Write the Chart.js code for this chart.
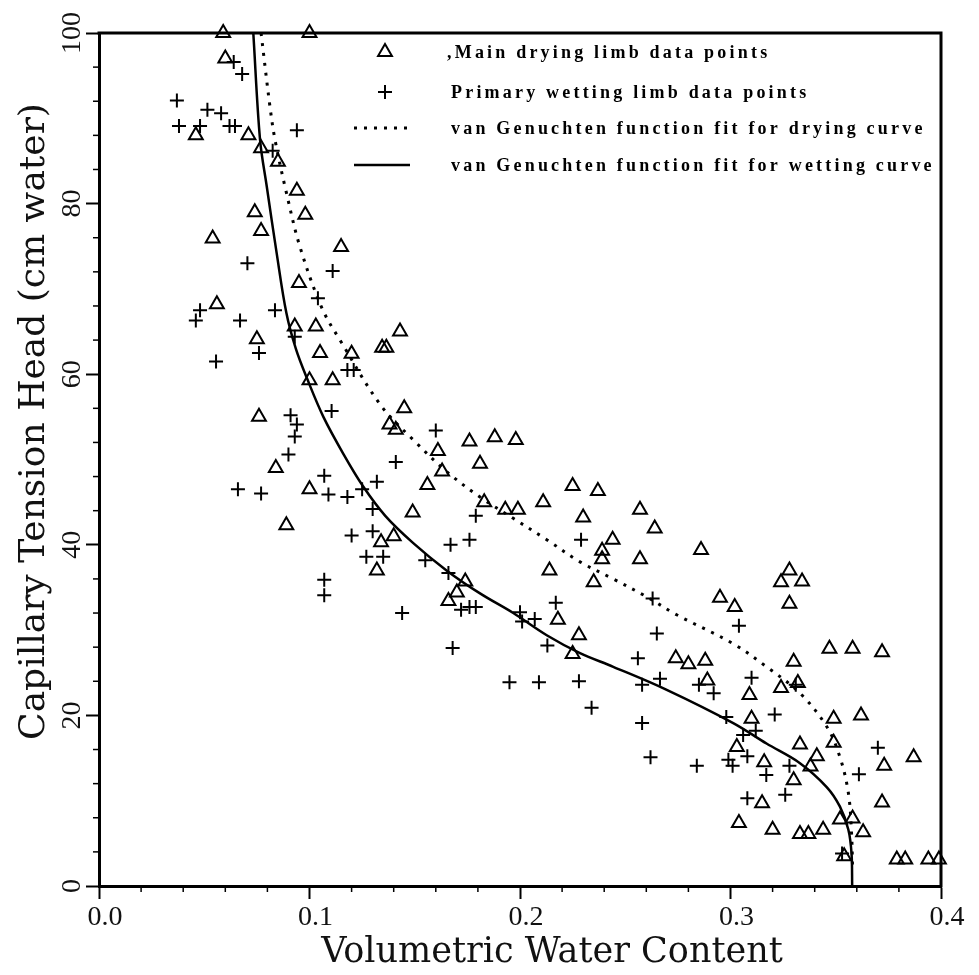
<!DOCTYPE html>
<html>
<head>
<meta charset="utf-8">
<title>Capillary tension head vs volumetric water content</title>
<script src="https://cdn.jsdelivr.net/npm/chart.js@4.4.1/dist/chart.umd.min.js"></script>
<style>
  html, body { margin: 0; padding: 0; background: #fff; }
</style>
</head>
<body>
<canvas id="retentionChart" width="979" height="975"></canvas>
<script>
"use strict"
//x = volumetric water content, y = capillary tension head (cm)

//main drying limb data points (triangles)
var dryTheta = [0.059,0.100,0.060,0.046,0.071,0.077,0.085,0.094,0.074,0.098,0.077,0.054,0.115,0.095,0.056,
  0.093,0.103,0.075,0.105,0.120,0.1345,0.1365,0.143,0.100,0.111,0.076,0.084,0.100,0.089,0.134,0.132,
  0.145,0.138,0.141,0.176,0.188,0.198,0.161,0.181,0.163,0.156,0.183,0.193,0.199,0.149,0.225,0.237,
  0.211,0.257,0.230,0.264,0.244,0.239,0.239,0.257,0.214,0.235,0.140,0.174,0.170,0.166,0.218,0.228,
  0.225,0.274,0.286,0.328,0.324,0.334,0.328,0.295,0.302,0.347,0.358,0.372,0.330,0.280,0.288,0.289,
  0.324,0.332,0.309,0.310,0.349,0.362,0.349,0.333,0.303,0.316,0.341,0.338,0.373,0.387,0.330,0.315,
  0.372,0.304,0.320,0.333,0.337,0.344,0.352,0.358,0.363,0.354,0.379,0.383,0.394,0.399];
var dryHead = [100,100,97.0,88.0,88.0,86.5,84.9,81.5,79.0,78.7,76.8,75.9,74.9,70.7,68.2,
  65.6,65.6,64.1,62.5,62.4,63.1,63.1,65.0,59.3,59.3,55.0,49.0,46.5,42.3,40.3,37.0,
  56.0,54.1,53.5,52.1,52.6,52.3,51.0,49.5,48.6,47.0,45.0,44.1,44.1,43.8,46.9,46.3,
  45.0,44.1,43.2,41.9,40.6,39.3,38.3,38.3,37.0,35.6,41.0,35.7,34.4,33.4,31.2,29.4,
  27.2,26.7,39.4,37.0,35.6,35.7,33.1,33.8,32.7,27.8,27.8,27.4,26.3,26.0,26.4,24.1,
  23.2,23.8,22.4,19.6,19.6,20.0,16.8,16.6,16.3,14.5,15.2,14.0,14.1,15.1,12.4,9.7,
  9.8,7.4,6.6,6.1,6.1,6.6,7.8,7.9,6.3,3.5,3.1,3.1,3.1,3.1];

//primary wetting limb data points (crosses)
var wetTheta = [0.064,0.068,0.037,0.0515,0.058,0.038,0.048,0.062,0.0646,0.094,0.0825,0.0705,0.111,0.104,0.048,
  0.0836,0.046,0.067,0.093,0.076,0.0556,0.118,0.121,0.1105,0.091,0.094,0.093,0.090,0.107,0.066,
  0.077,0.109,0.118,0.125,0.132,0.130,0.130,0.120,0.127,0.135,0.107,0.107,0.144,0.160,0.141,
  0.179,0.167,0.176,0.229,0.155,0.166,0.172,0.176,0.179,0.200,0.201,0.207,0.217,0.213,0.168,
  0.263,0.265,0.256,0.258,0.2665,0.258,0.262,0.285,0.292,0.304,0.310,0.298,0.321,0.284,0.299,
  0.301,0.308,0.306,0.312,0.317,0.328,0.308,0.326,0.361,0.370,0.353,0.331,0.195,0.209,0.228,0.234];
var wetHead = [96.6,95.2,92.1,91.0,90.6,89.1,89.1,89.1,89.1,88.6,86.2,73.0,72.1,68.9,67.5,
  67.5,66.3,66.3,64.4,62.5,61.5,60.5,60.5,55.7,55.2,54.1,52.7,50.6,48.1,46.5,
  46.0,45.9,45.6,46.5,47.4,44.2,41.6,41.1,38.6,38.6,35.9,34.1,32.0,53.4,49.7,
  43.4,40.0,40.6,40.6,38.2,36.7,32.4,32.7,32.7,32.1,31.0,31.3,33.2,28.2,27.9,
  33.7,29.6,26.7,23.6,24.3,19.1,15.1,23.6,22.6,30.5,24.4,19.8,20.1,14.1,14.8,
  14.1,15.2,17.7,18.2,13.0,14.1,10.3,10.7,13.1,16.2,3.8,23.6,23.9,23.9,24.0,20.9];

//van Genuchten fit, drying curve (dotted)
var dryFitTheta = [0.077,0.0812,0.0836,0.0891,0.0955,0.106,0.1145,0.134,0.1493,0.1651,0.181,0.1968,
  0.2127,0.2285,0.2443,0.2602,0.2744,0.3013,0.3171,0.333,0.3457,0.352,0.356,0.3575,0.358];
var dryFitHead = [100,91.4,87.5,81.2,74.9,67.7,64.0,56.3,52.3,48.6,45.6,43.1,
  40.6,38.0,36.0,33.9,31.8,28.4,25.7,22.6,18.7,15.1,10.9,6.2,2.0];

//van Genuchten fit, wetting curve (solid)
var wetFitTheta = [0.0733,0.0765,0.0797,0.0844,0.0890,0.0935,0.0990,0.1066,0.116,0.1256,0.136,0.1493,
  0.1651,0.181,0.1968,0.2127,0.2285,0.2443,0.2697,0.3013,0.3171,0.333,0.3457,0.352,0.356,0.3575,0.3578];
var wetFitHead = [100,87.5,82.0,74.2,67.2,63.0,59.4,55.0,50.7,46.8,43.4,40.2,
  37.0,34.3,32.0,29.4,27.3,25.7,23.0,19.1,16.7,14.4,11.6,9.3,6.6,3.8,0];

//tick labels
var xTickLabels = ["0.0","0.1","0.2","0.3","0.4"];
var yTickLabels = ["0","20","40","60","80","100"];

var legendLabels = [",Main drying limb data points","Primary wetting limb data points",
  "van Genuchten function fit for drying curve","van Genuchten function fit for wetting curve"];

function toPoints(xs, ys) {
  return xs.map(function(v, i) { return {x: v, y: ys[i]}; });
}
function majorIndex(value, step) {//index of a labelled tick, or -1 for a minor one
  var k = Math.round(value / step);
  return Math.abs(value / step - k) < 1e-6 ? k : -1;
}

var serif = "'Liberation Serif', 'DejaVu Serif', serif";

//extra drawing: box, minor ticks, rotated y labels, axis titles, legend
var decorPlugin = {
  id: "decor",
  afterDraw: function(chart) {
    var ctx = chart.ctx, area = chart.chartArea;
    var xs = chart.scales.x, ys = chart.scales.y;
    ctx.save();
    ctx.strokeStyle = "#000";
    ctx.lineWidth = 3;
    ctx.beginPath();//top and right side of the frame
    ctx.moveTo(area.left - 1.5, area.top);
    ctx.lineTo(area.right, area.top);
    ctx.lineTo(area.right, area.bottom + 1.5);
    ctx.stroke();

    ctx.lineWidth = 1.5;//minor ticks
    xs.ticks.forEach(function(t) {
      if (majorIndex(t.value, 0.1) < 0) {
        var px = xs.getPixelForValue(t.value);
        ctx.beginPath(); ctx.moveTo(px, area.bottom); ctx.lineTo(px, area.bottom + 6); ctx.stroke();
      }
    });
    ys.ticks.forEach(function(t) {
      if (majorIndex(t.value, 20) < 0) {
        var py = ys.getPixelForValue(t.value);
        ctx.beginPath(); ctx.moveTo(area.left, py); ctx.lineTo(area.left - 6, py); ctx.stroke();
      }
    });

    ctx.fillStyle = "#111";//y tick labels, written upward
    ctx.font = "28px " + serif;
    ctx.textAlign = "center";
    ctx.textBaseline = "alphabetic";
    ys.ticks.forEach(function(t) {
      var k = majorIndex(t.value, 20);
      if (k >= 0) {
        ctx.save();
        ctx.translate(area.left - 19, ys.getPixelForValue(t.value));
        ctx.rotate(-Math.PI / 2);
        ctx.fillText(yTickLabels[k], 0, 0);
        ctx.restore();
      }
    });

    ctx.font = "36px 'DejaVu Serif', serif";//axis titles
    ctx.save();
    ctx.translate(44, (area.top + area.bottom) / 2 - 38);
    ctx.rotate(-Math.PI / 2);
    ctx.fillText("Capillary Tension Head (cm water)", 0, 0);
    ctx.restore();
    ctx.font = "35px 'DejaVu Serif', serif";
    ctx.fillText("Volumetric Water Content", (area.left + area.right) / 2 + 32, 962);

    //legend inside the plot, top right
    var rowY = [area.top + 19, area.top + 59, area.top + 95, area.top + 132];
    var symX = 385, textX = 451;
    chart.data.datasets.forEach(function(ds, i) {
      var y = rowY[i];
      ctx.strokeStyle = "#000";
      if (ds.showLine) {
        ctx.lineWidth = ds.borderWidth;
        ctx.setLineDash(ds.borderDash || []);
        ctx.beginPath(); ctx.moveTo(354, y); ctx.lineTo(410, y); ctx.stroke();
        ctx.setLineDash([]);
      } else {
        ctx.lineWidth = ds.pointBorderWidth;
        ctx.fillStyle = "rgba(0,0,0,0)";
        Chart.helpers.drawPoint(ctx, {pointStyle: ds.pointStyle, radius: ds.pointRadius, rotation: 0,
          borderWidth: ds.pointBorderWidth}, symX, y);
      }
      ctx.fillStyle = "#000";
      ctx.font = "bold 18px " + serif;
      ctx.textAlign = "left";
      ctx.letterSpacing = "3.2px";
      ctx.fillText(ds.label, textX - (i === 0 ? 4 : 0), y + 6);
      ctx.letterSpacing = "0px";
    });
    ctx.restore();
  }
};

var retC = document.getElementById("retentionChart");
var retChart = new Chart(retC, {
  type: "scatter",
  data: {
    datasets: [
      {//drying points
        label: legendLabels[0],
        data: toPoints(dryTheta, dryHead),
        pointStyle: "triangle",
        pointRadius: 8,
        pointBorderWidth: 2,
        pointBorderColor: "#000",
        pointBackgroundColor: "rgba(0,0,0,0)",
        clip: false
      },
      {//wetting points
        label: legendLabels[1],
        data: toPoints(wetTheta, wetHead),
        pointStyle: "cross",
        pointRadius: 7,
        pointBorderWidth: 2,
        pointBorderColor: "#000",
        clip: false
      },
      {//drying fit
        label: legendLabels[2],
        data: toPoints(dryFitTheta, dryFitHead),
        showLine: true,
        borderColor: "#000",
        borderWidth: 3,
        borderDash: [3, 7],
        pointRadius: 0,
        tension: 0.35
      },
      {//wetting fit
        label: legendLabels[3],
        data: toPoints(wetFitTheta, wetFitHead),
        showLine: true,
        borderColor: "#000",
        borderWidth: 2.5,
        pointRadius: 0,
        tension: 0.35
      }
    ]
  },
  options: {
    responsive: false,
    animation: false,
    layout: { padding: { left: 0, right: 38, top: 33, bottom: 0 } },
    plugins: { legend: { display: false }, tooltip: { enabled: false } },
    scales: {
      x: {
        type: "linear",
        min: 0, max: 0.4,
        afterFit: function(scale) { scale.height = 89; },
        border: { display: true, color: "#000", width: 3 },
        grid: {
          drawOnChartArea: false, drawTicks: true, tickLength: 13, tickWidth: 2,
          tickColor: function(c) { return majorIndex(c.tick.value, 0.1) >= 0 ? "#000" : "rgba(0,0,0,0)"; }
        },
        ticks: {
          stepSize: 0.02, autoSkip: false, maxRotation: 0, minRotation: 0,
          padding: 2, labelOffset: 6, color: "#111",
          font: { family: serif, size: 28 },
          callback: function(v) { var k = majorIndex(v, 0.1); return k >= 0 ? xTickLabels[k] : ""; }
        }
      },
      y: {
        type: "linear",
        min: 0, max: 100,
        afterFit: function(scale) { scale.width = 99; },
        border: { display: true, color: "#000", width: 3 },
        grid: {
          drawOnChartArea: false, drawTicks: true, tickLength: 13, tickWidth: 2,
          tickColor: function(c) { return majorIndex(c.tick.value, 20) >= 0 ? "#000" : "rgba(0,0,0,0)"; }
        },
        ticks: {
          stepSize: 4, autoSkip: false, color: "rgba(0,0,0,0)",
          font: { family: serif, size: 28 },
          callback: function(v) { var k = majorIndex(v, 20); return k >= 0 ? yTickLabels[k] : ""; }
        }
      }
    }
  },
  plugins: [decorPlugin]
});
</script>
</body>
</html>
